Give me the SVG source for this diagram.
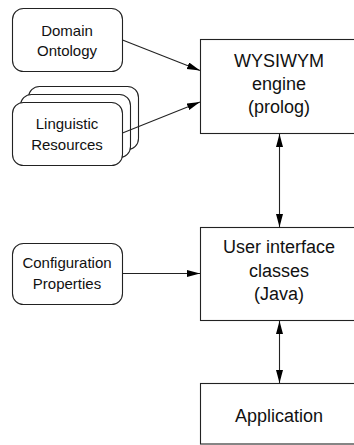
<svg xmlns="http://www.w3.org/2000/svg" width="354" height="445" viewBox="0 0 354 445">
<style>
.box{fill:#fff;stroke:#222;stroke-width:1.1}
.t{font-family:"Liberation Sans",Arial,sans-serif;fill:#111;text-anchor:middle}
.s{font-size:15px}
.b{font-size:18px}
.c{stroke:#222;stroke-width:1.1;fill:none}
</style>
<defs>
<marker id="ah" markerUnits="userSpaceOnUse" markerWidth="14" markerHeight="8" refX="13" refY="3.5" orient="auto-start-reverse">
<path d="M0,0 L13,3.5 L0,7 z" fill="#000"/>
</marker>
</defs>
<rect width="354" height="445" fill="#fff"/>
<g id="domain-ontology">
<rect class="box" x="12.5" y="8.5" width="110" height="63" rx="11"/>
<text class="t s" x="67" y="36">Domain</text>
<text class="t s" x="67" y="56">Ontology</text>
</g>
<g id="linguistic-resources">
<rect class="box" x="28.5" y="86.5" width="110" height="63" rx="11"/>
<rect class="box" x="20.5" y="94.5" width="110" height="63" rx="11"/>
<rect class="box" x="12.5" y="102.5" width="110" height="63" rx="11"/>
<text class="t s" x="67" y="129">Linguistic</text>
<text class="t s" x="67" y="150">Resources</text>
</g>
<g id="configuration-properties">
<rect class="box" x="12.5" y="243.5" width="110" height="61" rx="11"/>
<text class="t s" x="67" y="268">Configuration</text>
<text class="t s" x="67" y="289">Properties</text>
</g>
<g id="wysiwym-engine">
<rect class="box" x="200.5" y="39.5" width="158" height="94"/>
<text class="t b" x="279" y="67">WYSIWYM</text>
<text class="t b" x="279" y="90">engine</text>
<text class="t b" x="279" y="113">(prolog)</text>
</g>
<g id="user-interface">
<rect class="box" x="200.5" y="227.5" width="158" height="93"/>
<text class="t b" x="279" y="253">User interface</text>
<text class="t b" x="279" y="276.5">classes</text>
<text class="t b" x="279" y="300">(Java)</text>
</g>
<g id="application">
<rect class="box" x="200.5" y="383.5" width="158" height="60.5"/>
<text class="t b" x="279" y="422">Application</text>
</g>
<g id="connectors">
<line class="c" x1="122.5" y1="40" x2="200" y2="70.5" marker-end="url(#ah)"/>
<line class="c" x1="122.5" y1="133" x2="200" y2="102" marker-end="url(#ah)"/>
<line class="c" x1="122.5" y1="273.5" x2="200" y2="273.5" marker-end="url(#ah)"/>
<line class="c" x1="279.5" y1="134" x2="279.5" y2="227" marker-start="url(#ah)" marker-end="url(#ah)"/>
<line class="c" x1="279.5" y1="321" x2="279.5" y2="383" marker-start="url(#ah)" marker-end="url(#ah)"/>
</g>
</svg>
